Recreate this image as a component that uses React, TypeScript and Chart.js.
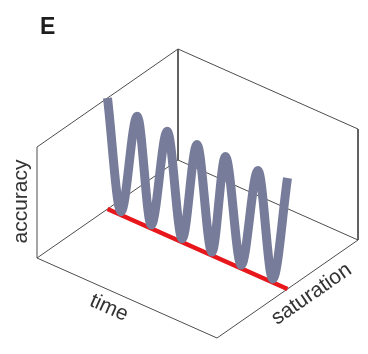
import React, { useEffect, useRef } from "react";
import { Chart, registerables } from "chart.js";

Chart.register(...registerables);

// ---- data (unit cube: time, saturation, accuracy all in [0, 1]) ----
const PANEL_LABEL = "E";
const TIME_LABEL = "time";
const SATURATION_LABEL = "saturation";
const ACCURACY_LABEL = "accuracy";

// oscillating accuracy trace over time, at mid saturation
const WAVE_TIME = [0, 0.075, 0.165, 0.243, 0.332, 0.415, 0.497, 0.58, 0.655, 0.743, 0.836, 0.918, 1];
const WAVE_ACCURACY = [1, 0.03, 0.955, 0.03, 0.94, 0.03, 0.94, 0.03, 0.945, 0.03, 0.95, 0.03, 1];
const WAVE_SATURATION = 0.5;

// saturation baseline on the floor (accuracy 0)
const BASELINE_TIME = [0, 1];
const BASELINE_SATURATION = 0.5;

// box frame edges: [time, saturation, accuracy] endpoints
const BOX_EDGES: number[][][] = [
  [[0, 0, 0], [0, 0, 1]],
  [[0, 0, 1], [0, 1, 1]],
  [[0, 1, 1], [0, 1, 0]],
  [[0, 0, 0], [0, 1, 0]],
  [[0, 1, 1], [1, 1, 1]],
  [[1, 1, 1], [1, 1, 0]],
  [[0, 1, 0], [1, 1, 0]],
  [[0, 0, 0], [1, 0, 0]],
  [[1, 0, 0], [1, 1, 0]],
];

// ---- layout (oblique projection into the plot's x/y space) ----
const W = 368;
const H = 354;
const ORIGIN = { x: 37, y: 258 };
const TIME_VEC = { x: 180, y: 80 };
const SAT_VEC = { x: 141, y: -98 };
const ACC_VEC = { x: 0, y: -111 };

function project(t: number, s: number, a: number) {
  return {
    x: ORIGIN.x + t * TIME_VEC.x + s * SAT_VEC.x + a * ACC_VEC.x,
    y: ORIGIN.y + t * TIME_VEC.y + s * SAT_VEC.y + a * ACC_VEC.y,
  };
}

const FONT = '"Liberation Sans", Arial, Helvetica, sans-serif';
const TEXT_COLOR = "#333333";

const labelPlugin = {
  id: "cubeLabels",
  afterDraw(chart: any) {
    const ctx = chart.ctx as CanvasRenderingContext2D;
    const xs = chart.scales.x;
    const ys = chart.scales.y;
    const px = (p: { x: number; y: number }) => ({ x: xs.getPixelForValue(p.x), y: ys.getPixelForValue(p.y) });

    ctx.save();
    ctx.fillStyle = "#1e1e1e";
    ctx.font = `bold 23px ${FONT}`;
    ctx.textAlign = "left";
    ctx.textBaseline = "alphabetic";
    ctx.fillText(PANEL_LABEL, 40, 34);

    ctx.fillStyle = TEXT_COLOR;
    ctx.font = `21px ${FONT}`;

    // accuracy (vertical, left wall edge)
    const accAnchor = px(project(0, 0, 0.5));
    ctx.save();
    ctx.translate(accAnchor.x - 10, accAnchor.y - 1);
    ctx.rotate(-Math.PI / 2);
    ctx.textAlign = "center";
    ctx.textBaseline = "alphabetic";
    ctx.fillText(ACCURACY_LABEL, 0, 0);
    ctx.restore();

    // time (along front bottom edge)
    const timeAnchor = px(project(0.4, 0, 0));
    ctx.save();
    ctx.translate(timeAnchor.x, timeAnchor.y + 18);
    ctx.rotate(Math.atan2(TIME_VEC.y, TIME_VEC.x));
    ctx.textAlign = "center";
    ctx.textBaseline = "middle";
    ctx.fillText(TIME_LABEL, 0, 0);
    ctx.restore();

    // saturation (along right bottom edge)
    const satAnchor = px(project(1, 0.6, 0));
    ctx.save();
    ctx.translate(satAnchor.x + 10, satAnchor.y + 15);
    ctx.rotate(Math.atan2(SAT_VEC.y, SAT_VEC.x));
    ctx.textAlign = "center";
    ctx.textBaseline = "middle";
    ctx.fillText(SATURATION_LABEL, 0, 0);
    ctx.restore();

    ctx.restore();
  },
};

export default function App() {
  const canvasRef = useRef<HTMLCanvasElement | null>(null);

  useEffect(() => {
    if (!canvasRef.current) return;

    const waveData = WAVE_TIME.map((t, i) => project(t, WAVE_SATURATION, WAVE_ACCURACY[i]));
    const baseData = BASELINE_TIME.map((t) => project(t, BASELINE_SATURATION, 0));

    const edgeSets = BOX_EDGES.map((edge) => ({
      data: edge.map(([t, s, a]) => project(t, s, a)),
      showLine: true,
      borderColor: "#4d4d4d",
      borderWidth: 1,
      pointRadius: 0,
      tension: 0,
      clip: false as any,
      order: 3,
    }));

    const chart = new Chart(canvasRef.current, {
      type: "scatter",
      data: {
        datasets: [
          {
            data: waveData,
            showLine: true,
            borderColor: "#767c99",
            borderWidth: 9,
            pointRadius: 0,
            cubicInterpolationMode: "monotone",
            clip: false as any,
            order: 0,
          } as any,
          {
            data: baseData,
            showLine: true,
            borderColor: "#e8171c",
            borderWidth: 4.5,
            pointRadius: 0,
            clip: false as any,
            order: 1,
          } as any,
          ...edgeSets,
        ],
      },
      options: {
        animation: false,
        responsive: true,
        maintainAspectRatio: false,
        layout: { padding: 0 },
        plugins: { legend: { display: false }, tooltip: { enabled: false }, title: { display: false } },
        events: [],
        scales: {
          x: { type: "linear", min: 0, max: W, display: false },
          y: { type: "linear", min: 0, max: H, reverse: true, display: false },
        },
      },
      plugins: [labelPlugin],
    });

    return () => chart.destroy();
  }, []);

  return (
    <div style={{ position: "fixed", left: 0, top: 0, width: W, height: H, background: "#ffffff" }}>
      <canvas ref={canvasRef} />
    </div>
  );
}
